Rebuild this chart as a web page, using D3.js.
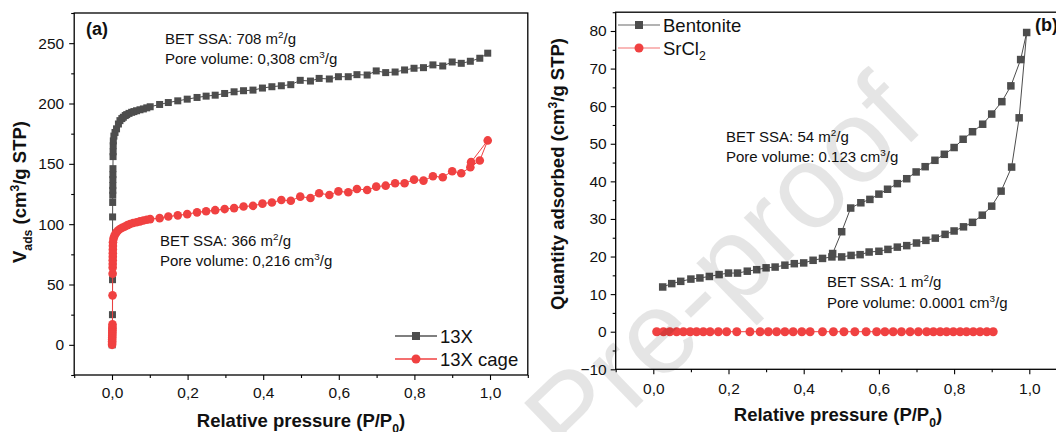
<!DOCTYPE html>
<html>
<head>
<meta charset="utf-8">
<script src="https://cdn.jsdelivr.net/npm/d3@7"></script>
<style>
  body { margin: 0; background: #fff; }
  svg { display: block; font-family: "Liberation Sans", Arial, sans-serif; }
</style>
</head>
<body>
<script>
const width  = 1056;
const height = 432;

// ---------------- data ----------------
// (a) 13X zeolite
const p_13x = [0.0005, 0.0008, 0.001, 0.0012, 0.0014, 0.0016, 0.0018, 0.002, 0.0021, 0.0022,
               0.0023, 0.0024, 0.0025, 0.0028, 0.003, 0.0032, 0.0035, 0.005, 0.008, 0.012,
               0.017, 0.021, 0.026, 0.03, 0.035, 0.039, 0.045, 0.052, 0.058, 0.065,
               0.074, 0.083, 0.092, 0.101, 0.126, 0.149, 0.174, 0.199, 0.225, 0.249,
               0.273, 0.298, 0.323, 0.348, 0.373, 0.398, 0.423, 0.448, 0.473, 0.498,
               0.525, 0.548, 0.575, 0.599, 0.625, 0.648, 0.675, 0.699, 0.724, 0.749,
               0.774, 0.799, 0.824, 0.849, 0.875, 0.9, 0.924, 0.948, 0.973, 0.994]
const v_13x = [0, 5, 12, 25, 54, 106, 118, 124, 128, 132,
               137, 141, 146, 156, 160, 165, 169, 173, 176, 179,
               183, 185.8, 187.5, 188.6, 190, 190.8, 191.8, 192.7, 193.3, 194,
               194.8, 195.5, 196.4, 197.3, 199.2, 200.8, 202.2, 203.6, 205, 206.1,
               206.9, 208.3, 209.7, 210.6, 211.1, 212.8, 213.9, 214.7, 215.6, 219.2,
               218.6, 220.8, 220.3, 222.2, 222.2, 223.9, 223.6, 227, 225.6, 226.1,
               227.8, 229.2, 229.7, 232, 231.1, 234.4, 233.3, 235, 237.5, 241.7]

// (a) 13X cage
const p_cage = [0.0002, 0.0003, 0.0004, 0.0005, 0.0006, 0.0007, 0.0008, 0.0009, 0.001, 0.0011,
                0.0012, 0.0013, 0.0015, 0.0017, 0.0018, 0.0019, 0.002, 0.0021, 0.0022, 0.0023,
                0.0024, 0.0026, 0.004, 0.006, 0.009, 0.012, 0.016, 0.021, 0.027, 0.034,
                0.041, 0.048, 0.056, 0.065, 0.074, 0.083, 0.092, 0.101, 0.126, 0.149,
                0.174, 0.199, 0.225, 0.249, 0.273, 0.298, 0.323, 0.348, 0.373, 0.398,
                0.423, 0.448, 0.473, 0.498, 0.525, 0.548, 0.575, 0.599, 0.625, 0.648,
                0.675, 0.699, 0.724, 0.749, 0.774, 0.799, 0.824, 0.849, 0.875, 0.9,
                0.924, 0.948, 0.973, 0.994, 0.95]
const v_cage = [0, 1.5, 3, 4.5, 6, 7.5, 9, 10.5, 12, 13.5,
                15, 17, 41, 59, 64, 67, 70, 73, 76, 79,
                82, 85, 88, 90, 92, 93.3, 94.8, 96, 97, 98,
                99.2, 100.2, 101, 101.6, 102.3, 103, 103.6, 104.2, 105, 106.3,
                107.3, 108.3, 109.8, 110.7, 111.6, 112.5, 113.3, 114.6, 115.2, 117,
                118, 120, 119.4, 122.8, 121.7, 125.6, 124.2, 127.2, 126.4, 129.2,
                128.3, 131.1, 131.9, 133.9, 133.9, 136.9, 136.1, 139.7, 138.9, 143.9,
                142.2, 147.2, 152.8, 169.4, 151.4]

// (b) Bentonite, adsorption then desorption
const p_bent = [0.025, 0.049, 0.073, 0.1, 0.124, 0.149, 0.175, 0.2, 0.224, 0.25,
                0.275, 0.3, 0.324, 0.35, 0.375, 0.4, 0.425, 0.45, 0.475, 0.501,
                0.526, 0.55, 0.574, 0.6, 0.624, 0.649, 0.674, 0.7, 0.725, 0.75,
                0.776, 0.8, 0.825, 0.849, 0.875, 0.9, 0.925, 0.953, 0.973, 0.993,
                0.977, 0.951, 0.927, 0.9, 0.876, 0.849, 0.824, 0.8, 0.774, 0.749,
                0.723, 0.699, 0.674, 0.649, 0.623, 0.6, 0.576, 0.552, 0.525, 0.501, 0.477]
const v_bent = [11.9, 12.8, 13.4, 14.0, 14.3, 14.7, 15.2, 15.6, 15.6, 16.1,
                16.5, 17.0, 17.2, 17.7, 18.1, 18.3, 19.0, 19.5, 19.9, 19.9,
                20.3, 20.5, 21.2, 21.4, 21.9, 22.5, 22.9, 23.6, 24.3, 24.9,
                25.9, 26.8, 27.9, 29.1, 31.0, 33.4, 37.4, 43.8, 56.9, 79.6,
                72.4, 65.4, 61.2, 57.9, 55.2, 53.2, 51.2, 49.0, 47.2, 45.6,
                43.9, 42.5, 40.7, 39.4, 37.9, 36.6, 35.2, 34.3, 32.9, 26.6, 20.8]

// (b) SrCl2
const p_srcl2 = [0.009, 0.027, 0.044, 0.062, 0.08, 0.098, 0.115, 0.133, 0.151, 0.173,
                 0.195, 0.222, 0.257, 0.284, 0.306, 0.328, 0.35, 0.372, 0.395, 0.417,
                 0.45, 0.479, 0.507, 0.536, 0.566, 0.594, 0.616, 0.638, 0.66, 0.683,
                 0.705, 0.727, 0.745, 0.763, 0.78, 0.798, 0.816, 0.833, 0.851, 0.869,
                 0.887, 0.904]
const v_srcl2 = [0, 0, 0, 0, 0, 0, 0, 0, 0, 0,
                 0, 0, 0, 0, 0, 0, 0, 0, 0, 0,
                 0, 0, 0, 0, 0, 0, 0, 0, 0, 0,
                 0, 0, 0, 0, 0, 0, 0, 0, 0, 0,
                 0, 0]

// ticks
const x_major   = [0, 0.2, 0.4, 0.6, 0.8, 1.0]
const x_minor   = [-0.1, 0.1, 0.3, 0.5, 0.7, 0.9, 1.1]
const ya_major  = [0, 50, 100, 150, 200, 250]
const ya_minor  = [-25, 25, 75, 125, 175, 225, 275]
const yb_major  = [-10, 0, 10, 20, 30, 40, 50, 60, 70, 80]
const yb_minor  = [-5, 5, 15, 25, 35, 45, 55, 65, 75, 85]

const gray    = "#4d4d4d"
const red     = "#f04141"

// ---------------- svg ----------------
const svg = d3.select("body").append("svg")
      .attr("width", width)
      .attr("height", height)
      .attr("viewBox", [0, 0, width, height])

const comma = d3.formatLocale({decimal: ",", thousands: ".", grouping: [3], currency: ["", ""]}).format(".1f")

// panel (a) scales
const xa = d3.scaleLinear().domain([-0.1, 1.1]).range([74.2, 527.8])
const ya = d3.scaleLinear().domain([-25, 275]).range([375, 13])
// panel (b) scales
const xb = d3.scaleLinear().domain([-0.1, 1.1]).range([615.7, 1066.9])
const yb = d3.scaleLinear().domain([-10, 85]).range([369.3, 12.2])

// rich text: parts = [[text, ""|"sup"|"sub"], ...]
function rich(sel, parts, size){
    let off = 0
    parts.forEach(([t, m]) => {
        const target = m === "sup" ? -0.4 * size : m === "sub" ? 0.3 * size : 0
        sel.append("tspan")
            .attr("dy", target - off)
            .attr("font-size", m ? size * 0.66 : size)
            .text(t)
        off = target
    })
    return sel
}

function draw_axes(x, y, yMajor, yMinor, xPad, yPad, yFmt){
    const y0 = y.range()[0]
    const x0 = x.range()[0]

    const gx = svg.append("g")
        .attr("transform", `translate(0,${y0})`)
        .call(d3.axisBottom(x).tickValues(x_major).tickSize(5).tickPadding(xPad).tickFormat(comma))
        .attr("font-size", 15.5)
        .attr("font-family", null)
    gx.select(".domain").remove()
    gx.selectAll("text").attr("fill", "#111")

    const gxm = svg.append("g")
        .attr("transform", `translate(0,${y0})`)
        .call(d3.axisBottom(x).tickValues(x_minor).tickSize(3).tickFormat(""))
    gxm.select(".domain").remove()

    const gy = svg.append("g")
        .attr("transform", `translate(${x0},0)`)
        .call(d3.axisLeft(y).tickValues(yMajor).tickSize(5).tickPadding(yPad).tickFormat(yFmt))
        .attr("font-size", 15.5)
        .attr("font-family", null)
    gy.select(".domain").remove()
    gy.selectAll("text").attr("fill", "#111")

    const gym = svg.append("g")
        .attr("transform", `translate(${x0},0)`)
        .call(d3.axisLeft(y).tickValues(yMinor).tickSize(3).tickFormat(""))
    gym.select(".domain").remove()

    svg.selectAll(".tick line").attr("stroke", "#000").attr("stroke-width", 1.1)

    svg.append("rect")
        .attr("x", x0)
        .attr("y", y.range()[1])
        .attr("width", x.range()[1] - x0)
        .attr("height", y0 - y.range()[1])
        .attr("fill", "none")
        .attr("stroke", "#000")
        .attr("stroke-width", 1.3)
}

function draw_series(x, y, px, py, color, shape, size){
    const pts = px.map((d, i) => [d, py[i]])
    svg.append("path")
        .datum(pts)
        .attr("fill", "none")
        .attr("stroke", color)
        .attr("stroke-width", 1)
        .attr("d", d3.line().x(d => x(d[0])).y(d => y(d[1])))
    if (shape === "square"){
        svg.append("g").selectAll("rect")
            .data(pts).join("rect")
            .attr("x", d => x(d[0]) - size / 2)
            .attr("y", d => y(d[1]) - size / 2)
            .attr("width", size)
            .attr("height", size)
            .attr("fill", color)
    } else {
        svg.append("g").selectAll("circle")
            .data(pts).join("circle")
            .attr("cx", d => x(d[0]))
            .attr("cy", d => y(d[1]))
            .attr("r", size / 2)
            .attr("fill", color)
    }
}

function legend_item(x1, x2, yy, lineColor, color, shape, size, parts){
    svg.append("line")
        .attr("x1", x1).attr("x2", x2)
        .attr("y1", yy).attr("y2", yy)
        .attr("stroke", lineColor)
        .attr("stroke-width", 1.3)
    const cx = (x1 + x2) / 2
    if (shape === "square"){
        svg.append("rect")
            .attr("x", cx - size / 2).attr("y", yy - size / 2)
            .attr("width", size).attr("height", size)
            .attr("fill", color)
    } else {
        svg.append("circle")
            .attr("cx", cx).attr("cy", yy).attr("r", size / 2)
            .attr("fill", color)
    }
    rich(svg.append("text").attr("x", x2 + 3).attr("y", yy + 6.5).attr("fill", "#111"), parts, 18.5)
}

function note(x, y, parts, size){
    rich(svg.append("text").attr("x", x).attr("y", y).attr("fill", "#111"), parts, size)
}

// ---------------- panel (a) ----------------
draw_axes(xa, ya, ya_major, ya_minor, 7, 5, d3.format("d"))
draw_series(xa, ya, p_13x, v_13x, gray, "square", 7)
draw_series(xa, ya, p_cage, v_cage, red, "circle", 8.6)

note(165, 44, [["BET SSA: 708 m", ""], ["2", "sup"], ["/g", ""]], 15)
note(165, 64, [["Pore volume: 0,308 cm", ""], ["3", "sup"], ["/g", ""]], 15)
note(160, 246, [["BET SSA: 366 m", ""], ["2", "sup"], ["/g", ""]], 15)
note(160, 266, [["Pore volume: 0,216 cm", ""], ["3", "sup"], ["/g", ""]], 15)

svg.append("text").attr("x", 86).attr("y", 35)
    .attr("font-size", 18).attr("font-weight", "bold").attr("fill", "#111").text("(a)")

legend_item(395, 437, 336, "#555", gray, "square", 8, [["13X", ""]])
legend_item(395, 437, 359, red, red, "circle", 9, [["13X cage", ""]])

rich(svg.append("text")
    .attr("x", 301).attr("y", 427)
    .attr("text-anchor", "middle").attr("font-weight", "bold").attr("fill", "#111"),
    [["Relative pressure (P/P", ""], ["0", "sub"], [")", ""]], 18.5)

rich(svg.append("text")
    .attr("transform", "translate(26,192) rotate(-90)")
    .attr("text-anchor", "middle").attr("font-weight", "bold").attr("fill", "#111"),
    [["V", ""], ["ads", "sub"], [" (cm", ""], ["3", "sup"], ["/g STP)", ""]], 18.5)

// ---------------- panel (b) ----------------
draw_axes(xb, yb, yb_major, yb_minor, 8.5, 4, d3.format("d"))
draw_series(xb, yb, p_bent, v_bent, gray, "square", 7.5)
draw_series(xb, yb, p_srcl2, v_srcl2, red, "circle", 9)

note(726, 142, [["BET SSA: 54 m", ""], ["2", "sup"], ["/g", ""]], 15)
note(726, 162, [["Pore volume: 0.123 cm", ""], ["3", "sup"], ["/g", ""]], 15)
note(827, 287, [["BET SSA: 1 m", ""], ["2", "sup"], ["/g", ""]], 15)
note(827, 308, [["Pore volume: 0.0001 cm", ""], ["3", "sup"], ["/g", ""]], 15)

svg.append("text").attr("x", 1035).attr("y", 31)
    .attr("font-size", 18).attr("font-weight", "bold").attr("fill", "#111").text("(b)")

legend_item(618, 660, 25, "#9a9a9a", gray, "square", 8, [["Bentonite", ""]])
legend_item(618, 660, 48, "#f7a0a0", red, "circle", 9, [["SrCl", ""], ["2", "sub"]])

rich(svg.append("text")
    .attr("x", 838).attr("y", 421)
    .attr("text-anchor", "middle").attr("font-weight", "bold").attr("fill", "#111"),
    [["Relative pressure (P/P", ""], ["0", "sub"], [")", ""]], 18.5)

rich(svg.append("text")
    .attr("transform", "translate(564,174) rotate(-90)")
    .attr("text-anchor", "middle").attr("font-weight", "bold").attr("fill", "#111"),
    [["Quantity adsorbed (cm", ""], ["3", "sup"], ["/g STP)", ""]], 18.5)

// watermark
svg.append("text")
    .attr("transform", "translate(722,268) rotate(-44)")
    .attr("text-anchor", "middle")
    .attr("dominant-baseline", "central")
    .attr("font-size", 118)
    .attr("fill", "#000")
    .attr("fill-opacity", 0.1)
    .text("Pre-proof")
</script>
</body>
</html>
